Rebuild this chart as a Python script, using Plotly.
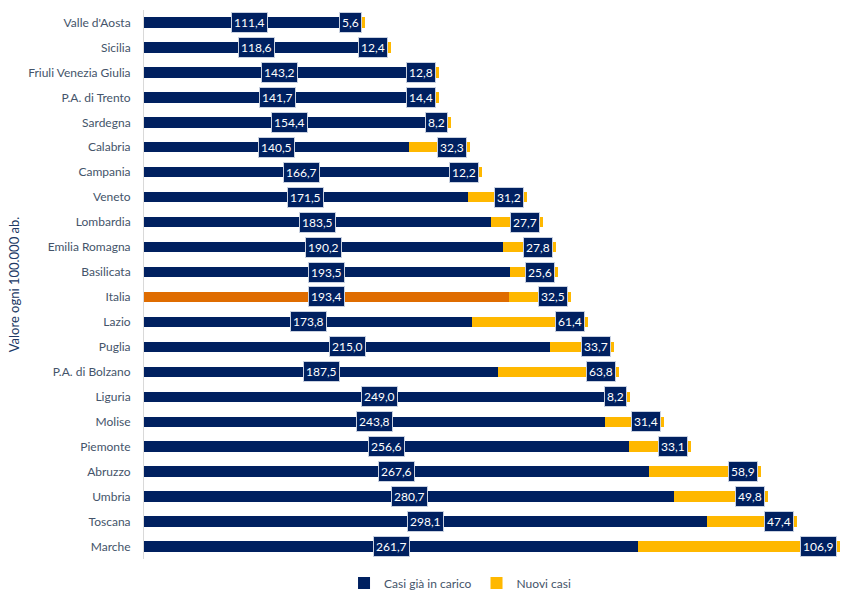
import plotly.graph_objects as go

regions = ["Valle d'Aosta", "Sicilia", "Friuli Venezia Giulia", "P.A. di Trento", "Sardegna",
           "Calabria", "Campania", "Veneto", "Lombardia", "Emilia Romagna", "Basilicata",
           "Italia", "Lazio", "Puglia", "P.A. di Bolzano", "Liguria", "Molise", "Piemonte",
           "Abruzzo", "Umbria", "Toscana", "Marche"]
casi_in_carico = [111.4, 118.6, 143.2, 141.7, 154.4, 140.5, 166.7, 171.5, 183.5, 190.2, 193.5,
                  193.4, 173.8, 215.0, 187.5, 249.0, 243.8, 256.6, 267.6, 280.7, 298.1, 261.7]
nuovi_casi = [5.6, 12.4, 12.8, 14.4, 8.2, 32.3, 12.2, 31.2, 27.7, 27.8, 25.6,
              32.5, 61.4, 33.7, 63.8, 8.2, 31.4, 33.1, 58.9, 49.8, 47.4, 106.9]

NAVY = "#002060"
YELLOW = "#FFB800"
ORANGE = "#DF6C00"
FONT = "Lato"

colors1 = [ORANGE if r == "Italia" else NAVY for r in regions]

fig = go.Figure()
fig.add_trace(go.Bar(y=regions, x=casi_in_carico, orientation="h", name="Casi già in carico",
                     marker=dict(color=colors1, line=dict(width=0)), width=0.42))
fig.add_trace(go.Bar(y=regions, x=nuovi_casi, orientation="h", name="Nuovi casi",
                     marker=dict(color=YELLOW, line=dict(width=0)), width=0.42))

def fmt(v):
    return f"{v:.1f}".replace(".", ",")

annotations = []
for r, a, b in zip(regions, casi_in_carico, nuovi_casi):
    common = dict(y=r, xref="x", yref="y", showarrow=False, bgcolor=NAVY,
                  bordercolor="#C9D1E0", borderwidth=1, borderpad=2,
                  font=dict(family=FONT, size=12, color="white"))
    annotations.append(dict(x=a / 2, text=fmt(a), xanchor="center", **common))
    annotations.append(dict(x=a + b, text=fmt(b), xanchor="right", xshift=-3, **common))

fig.update_layout(
    width=841, height=590,
    barmode="stack",
    plot_bgcolor="white", paper_bgcolor="white",
    margin=dict(l=144, r=0, t=10, b=31, autoexpand=False),
    font=dict(family=FONT, size=12, color="#44546A"),
    annotations=annotations,
    showlegend=True,
    legend=dict(orientation="h", xref="container", x=0.547, xanchor="center",
                yref="container", y=0.012, yanchor="middle",
                itemwidth=30, tracegroupgap=0,
                font=dict(family=FONT, size=12, color="#44546A"), traceorder="normal"),
    xaxis=dict(range=[0, 369], showgrid=False, showticklabels=False, zeroline=False,
               showline=False, fixedrange=True, automargin=False),
    yaxis=dict(autorange="reversed", showgrid=False, showline=True, linecolor="#D9D9D9",
               linewidth=1, ticks="", ticklabelstandoff=10, automargin=False,
               tickfont=dict(family=FONT, size=12, color="#44546A"),
               title=dict(text="Valore ogni 100.000 ab.", standoff=5,
                          font=dict(family=FONT, size=13, color="#203864"))),
)

fig.write_html("out.html", config={"displayModeBar": False},
               post_script="document.body.style.margin='0';")
